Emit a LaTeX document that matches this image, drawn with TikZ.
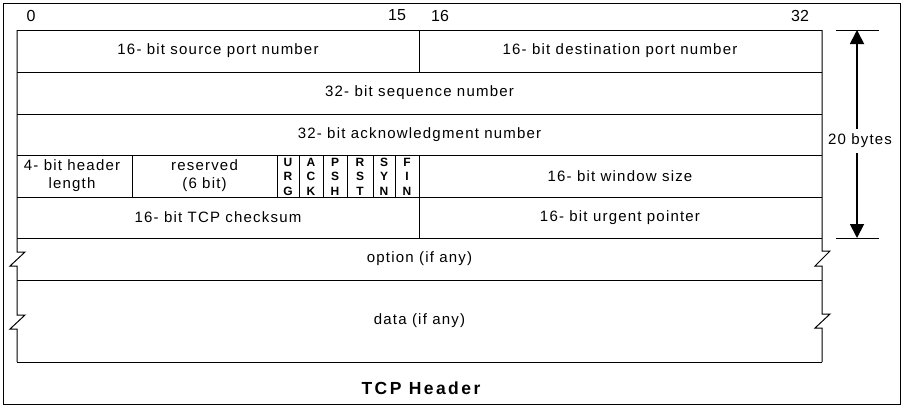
\documentclass[tikz,border=0pt]{standalone}
\usepackage{fontspec}
\setmainfont{Liberation Sans}
\usetikzlibrary{arrows.meta}
\tikzset{
  grid/.style={line width=1pt, black},
  lbl/.style={inner sep=1pt, font=\fontsize{15}{18}\selectfont\addfontfeature{LetterSpace=8}},
  flag/.style={inner sep=0pt, align=center, font=\fontsize{12}{14.5}\selectfont\bfseries},
  bitnum/.style={inner sep=1pt, font=\fontsize{16}{18}\selectfont},
  dim/.style={line width=1.8pt, {Triangle[width=14pt,length=14pt]}-{Triangle[width=14pt,length=14pt]}},
  dimline/.style={line width=1pt},
  title/.style={inner sep=1pt, font=\fontsize{17.5}{19}\selectfont\bfseries\addfontfeature{LetterSpace=14}},
}
\begin{document}
\begin{tikzpicture}[x=1pt,y=-1pt]
\useasboundingbox (0,0) rectangle (904,407);
% outer frame
\draw[line width=1pt] (3,3) rectangle (900,404);
% bit numbers
\node[bitnum] (b0) at (31,15.5) {0};
\node[bitnum] (b15) at (397,15.5) {15};
\node[bitnum] (b16) at (440,15.5) {16};
\node[bitnum] (b32) at (800,15.5) {32};
% horizontal grid lines
\draw[grid] (17,30) -- (822,30);
\draw[grid] (17,72) -- (822,72);
\draw[grid] (17,114) -- (822,114);
\draw[grid] (17,155) -- (822,155);
\draw[grid] (17,197) -- (822,197);
\draw[grid] (17,238) -- (822,238);
\draw[grid] (17,280) -- (822,280);
\draw[grid] (17,362) -- (822,362);
% vertical dividers
\draw[grid] (419,30) -- (419,72);
\draw[grid] (419,155) -- (419,238);
\draw[grid] (132,155) -- (132,197);
\draw[grid] (277,155) -- (277,197);
\draw[grid] (299,155) -- (299,197);
\draw[grid] (323,155) -- (323,197);
\draw[grid] (347,155) -- (347,197);
\draw[grid] (373,155) -- (373,197);
\draw[grid] (395,155) -- (395,197);
% left edge with breaks
\draw[grid] (17,30) -- (17,252) -- (25,252) -- (10,266) -- (17,266) -- (17,315) -- (25,315) -- (10,329) -- (17,329) -- (17,362);
% right edge with breaks
\draw[grid] (822,30) -- (822,251) -- (830,251) -- (815,266) -- (822,266) -- (822,314) -- (830,314) -- (815,328) -- (822,328) -- (822,362);
% labels
\node[lbl] (src) at (218,51) {16- bit source port number};
\node[lbl] (dst) at (620,51) {16- bit destination port number};
\node[lbl] (seq) at (419.5,93) {32- bit sequence number};
\node[lbl] (ack) at (419.5,134.5) {32- bit acknowledgment number};
\node[lbl, align=center] (hlen) at (72,176) {4- bit header\\length};
\node[lbl, align=center] (res) at (204.5,176) {reserved\\(6 bit)};
\node[flag] (urg) at (288,176.5) {U\\R\\G};
\node[flag] (fack) at (311,176.5) {A\\C\\K};
\node[flag] (psh) at (335,176.5) {P\\S\\H};
\node[flag] (rst) at (360,176.5) {R\\S\\T};
\node[flag] (syn) at (384,176.5) {S\\Y\\N};
\node[flag] (fin) at (407,176.5) {F\\I\\N};
\node[lbl] (win) at (620,176) {16- bit window size};
\node[lbl] (chk) at (218,217.5) {16- bit TCP checksum};
\node[lbl] (urgp) at (620,217.5) {16- bit urgent pointer};
\node[lbl] (opt) at (419.5,259) {option (if any)};
\node[lbl] (data) at (419.5,321) {data (if any)};
\node[title] (ttl) at (421,388) {TCP Header};
% dimension
\draw[dimline] (836,30) -- (879,30);
\draw[dimline] (836,238) -- (879,238);
\coordinate (dtop) at (857,30);
\coordinate (dbot) at (857,238);
\draw[dim] (dtop) -- (dbot);
\node[lbl, fill=white, inner ysep=5pt, inner xsep=2pt] (bytes) at (860,141) {20 bytes};
\end{tikzpicture}
\end{document}
